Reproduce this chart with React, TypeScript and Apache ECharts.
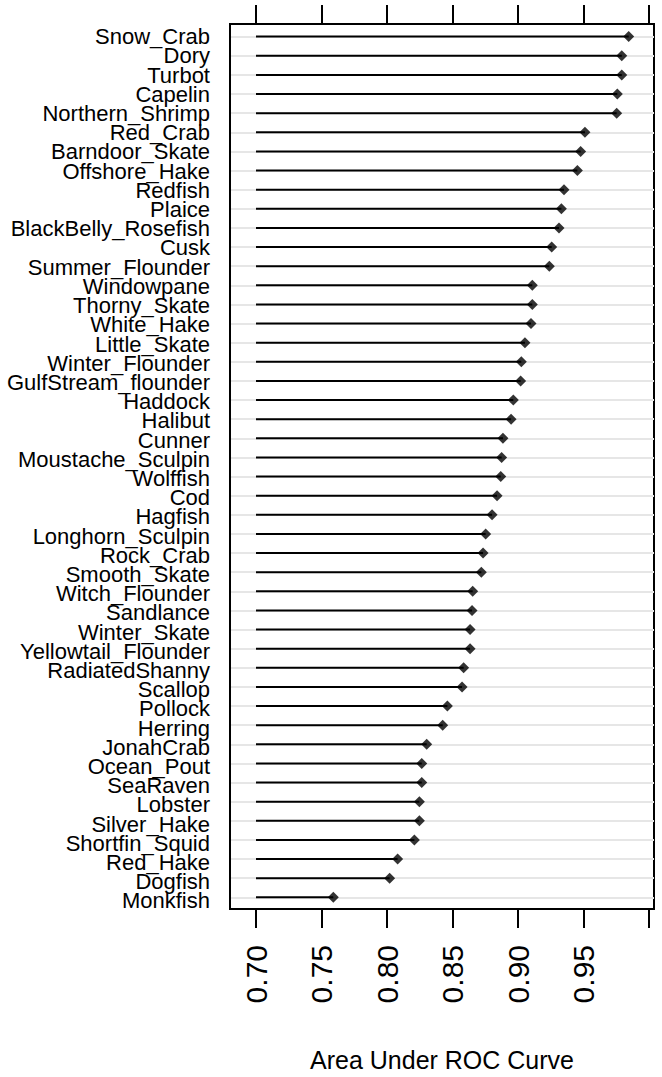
import React, { useEffect, useRef } from "react";
import * as echarts from "echarts";

const species = [
  "Snow_Crab", "Dory", "Turbot", "Capelin", "Northern_Shrimp", "Red_Crab",
  "Barndoor_Skate", "Offshore_Hake", "Redfish", "Plaice", "BlackBelly_Rosefish",
  "Cusk", "Summer_Flounder", "Windowpane", "Thorny_Skate", "White_Hake",
  "Little_Skate", "Winter_Flounder", "GulfStream_flounder", "Haddock", "Halibut",
  "Cunner", "Moustache_Sculpin", "Wolffish", "Cod", "Hagfish", "Longhorn_Sculpin",
  "Rock_Crab", "Smooth_Skate", "Witch_Flounder", "Sandlance", "Winter_Skate",
  "Yellowtail_Flounder", "RadiatedShanny", "Scallop", "Pollock", "Herring",
  "JonahCrab", "Ocean_Pout", "SeaRaven", "Lobster", "Silver_Hake",
  "Shortfin_Squid", "Red_Hake", "Dogfish", "Monkfish",
];

const auc = [
  0.9845, 0.9792, 0.9792, 0.9758, 0.9753, 0.9511,
  0.9478, 0.9453, 0.9351, 0.9331, 0.9313,
  0.9257, 0.9239, 0.9109, 0.9109, 0.9099,
  0.9053, 0.9025, 0.902, 0.8964, 0.8947,
  0.8885, 0.8875, 0.8868, 0.884, 0.8802, 0.8753,
  0.8733, 0.872, 0.8654, 0.8649, 0.8634,
  0.8634, 0.8585, 0.8573, 0.8461, 0.8425,
  0.8303, 0.8265, 0.8265, 0.8247, 0.8247,
  0.8209, 0.8081, 0.802, 0.759,
];

const xTicks = [0.7, 0.75, 0.8, 0.85, 0.9, 0.95, 1.0];
const xTickLabels = [0.7, 0.75, 0.8, 0.85, 0.9, 0.95];
const stemBase = 0.7;
const xMin = 0.68015;
const xMax = 1.0038;
const xTitle = "Area Under ROC Curve";

const FONT = "'Liberation Sans', Arial, Helvetica, sans-serif";

export default function App() {
  const ref = useRef<HTMLDivElement>(null);

  useEffect(() => {
    const chart = echarts.init(ref.current!, null, { renderer: "svg" });
    const rows = species.map((_, i) => i);
    const points = auc.map((v, i) => [v, i]);

    const axisLine = { show: true, onZero: false, lineStyle: { color: "#000", width: 2 } };
    const tick = {
      show: true,
      customValues: xTicks,
      length: 19,
      lineStyle: { color: "#000", width: 2 },
    };

    chart.setOption({
      animation: false,
      backgroundColor: "#fff",
      grid: [
        {
          left: 230,
          right: 8,
          top: 24,
          bottom: 164,
          show: true,
          borderColor: "#000",
          borderWidth: 2,
          backgroundColor: "transparent",
        },
        // label-only grid whose category bands line up with the rows
        { left: 230, right: 8, top: 27.1, bottom: 166.4, show: false },
      ],
      xAxis: [
        {
          type: "value",
          gridIndex: 0,
          position: "bottom",
          min: xMin,
          max: xMax,
          axisLine,
          axisTick: tick,
          axisLabel: {
            customValues: xTickLabels,
            rotate: 90,
            margin: 36,
            fontSize: 30,
            color: "#000",
            fontFamily: FONT,
            formatter: (v: number) => v.toFixed(2),
          },
          splitLine: { show: false },
          name: xTitle,
          nameLocation: "middle",
          nameGap: 138,
          nameTextStyle: { fontSize: 25, color: "#000", fontFamily: FONT },
        },
        {
          type: "value",
          gridIndex: 0,
          position: "top",
          min: xMin,
          max: xMax,
          axisLine,
          axisTick: tick,
          axisLabel: { show: false },
          splitLine: { show: false },
        },
        {
          type: "value",
          gridIndex: 1,
          show: false,
          min: xMin,
          max: xMax,
        },
      ],
      yAxis: [
        {
          type: "value",
          gridIndex: 0,
          inverse: true,
          min: -0.66,
          max: 45.61,
          axisLine,
          axisTick: { show: false, customValues: rows },
          axisLabel: { show: false, customValues: rows },
          splitLine: { show: true, lineStyle: { color: "#e6e6e6", width: 2 } },
        },
        {
          type: "category",
          gridIndex: 1,
          inverse: true,
          data: species,
          axisLine: { show: false },
          axisTick: { show: false },
          splitLine: { show: false },
          axisLabel: {
            interval: 0,
            margin: 20,
            fontSize: 22,
            lineHeight: 19,
            color: "#000",
            fontFamily: FONT,
          },
        },
      ],
      series: [
        {
          type: "custom",
          xAxisIndex: 0,
          yAxisIndex: 0,
          data: points,
          encode: { x: 0, y: 1 },
          renderItem: (_params: any, api: any) => {
            const a = api.coord([stemBase, api.value(1)]);
            const b = api.coord([api.value(0), api.value(1)]);
            return {
              type: "line",
              shape: { x1: a[0], y1: a[1], x2: b[0], y2: b[1] },
              style: { stroke: "#000", lineWidth: 2 },
            };
          },
          z: 3,
        },
        {
          type: "scatter",
          xAxisIndex: 0,
          yAxisIndex: 0,
          data: points,
          symbol: "diamond",
          symbolSize: 11,
          itemStyle: { color: "#000" },
          z: 4,
        },
      ],
    });

    return () => chart.dispose();
  }, []);

  return (
    <div
      ref={ref}
      style={{ position: "fixed", left: 0, top: 0, width: 662, height: 1077 }}
    />
  );
}
